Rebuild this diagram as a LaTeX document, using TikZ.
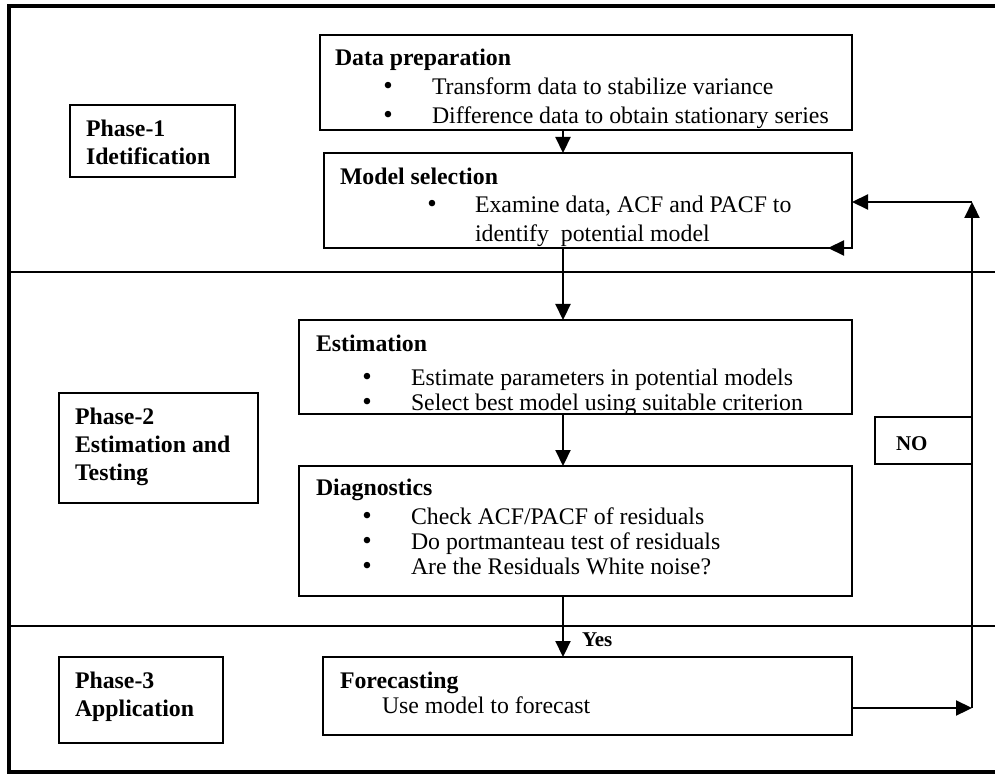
\documentclass[tikz,border=0pt]{standalone}
\usepackage{fontspec}
\setmainfont{Liberation Serif}
\usetikzlibrary{arrows.meta}
\newcommand{\bulitem}[2][48.7pt]{\makebox[#1][l]{\fontsize{27}{27}\selectfont\textbullet}#2}
\begin{document}
\begin{tikzpicture}[x=1pt,y=-1pt,
  every node/.style={inner sep=0pt, outer sep=0pt},
  txt/.style={anchor=base west, font=\fontsize{23.8}{26}\selectfont},
  ttl/.style={anchor=base west, font=\fontsize{23.8}{26}\selectfont\bfseries},
  lbl/.style={anchor=base west, font=\fontsize{21}{24}\selectfont\bfseries},
  box/.style={draw, line width=2pt, anchor=north west},
  frameline/.style={line width=4pt, line join=miter},
  divider/.style={line width=2pt},
  arr/.style={line width=2.2pt, -{Triangle[length=16pt,width=15pt]}},
]
\useasboundingbox (0,0) rectangle (995,775);
\fill[white] (0,0) rectangle (995,775);

% frame and dividers
\draw[frameline] (995,6) -- (9,6) -- (9,772) -- (995,772);
\draw[divider] (9,272) -- (995,272);
\draw[divider] (9,626) -- (995,626);

% phase boxes
\node[box, minimum width=165pt, minimum height=72pt] (p1) at (70,105) {};
\node[ttl] (p1a) at (86,137) {Phase-1};
\node[ttl] (p1b) at (86,165) {Idetification};

\node[box, minimum width=199pt, minimum height=110pt] (p2) at (59,393) {};
\node[ttl] (p2a) at (75,424) {Phase-2};
\node[ttl] (p2b) at (75,452) {Estimation and};
\node[ttl] (p2c) at (75,480) {Testing};

\node[box, minimum width=164pt, minimum height=86pt] (p3) at (59,657) {};
\node[ttl] (p3a) at (75,688) {Phase-3};
\node[ttl] (p3b) at (75,716) {Application};

% process boxes
\node[box, minimum width=532pt, minimum height=95pt] (dp) at (320,35) {};
\begin{scope}
\clip (dp.north west) rectangle (dp.south east);
\node[ttl] (dpt) at (335,66) {Data preparation};
\node[txt] (dp1) at (383.3,95) {\bulitem{Transform data to stabilize variance}};
\node[txt] (dp2) at (383.3,124) {\bulitem{Difference data to obtain stationary series}};
\end{scope}

\node[box, minimum width=528pt, minimum height=95pt] (ms) at (324,153) {};
\begin{scope}
\clip (ms.north west) rectangle (ms.south east);
\node[ttl] (mst) at (340,185) {Model selection};
\node[txt] (ms1) at (427.3,213) {\bulitem[47.7pt]{Examine data, ACF and PACF to}};
\node[txt] (ms2) at (475,242) {identify\ \ potential model};
\end{scope}

\node[box, minimum width=553pt, minimum height=94pt] (est) at (299,320) {};
\begin{scope}
\clip (est.north west) rectangle (est.south east);
\node[ttl] (estt) at (316,351) {Estimation};
\node[txt] (est1) at (362.3,385) {\bulitem{Estimate parameters in potential models}};
\node[txt] (est2) at (362.3,410) {\bulitem{Select best model using suitable criterion}};
\end{scope}

\node[box, minimum width=553pt, minimum height=130pt] (dg) at (299,466) {};
\begin{scope}
\clip (dg.north west) rectangle (dg.south east);
\node[ttl] (dgt) at (316,495) {Diagnostics};
\node[txt] (dg1) at (362.3,524) {\bulitem{Check ACF/PACF of residuals}};
\node[txt] (dg2) at (362.3,549) {\bulitem{Do portmanteau test of residuals}};
\node[txt] (dg3) at (362.3,574) {\bulitem{Are the Residuals White noise?}};
\end{scope}

\node[box, minimum width=529pt, minimum height=78pt] (fc) at (323,657) {};
\node[ttl] (fct) at (340,688) {Forecasting};
\node[txt] (fc1) at (382,713) {Use model to forecast};

% NO box
\node[box, minimum width=97pt, minimum height=47pt] (no) at (875,417) {};
\node[lbl] (notxt) at (896,450) {NO};

% connectors
\coordinate (ax) at (563,0);
\coordinate (rb) at (972,708);
\coordinate (rt) at (972,202);
\draw[arr] (dp.south -| ax) -- (ms.north -| ax);
\draw[arr] (ms.south -| ax) -- (est.north -| ax);
\draw[arr] (est.south -| ax) -- (dg.north -| ax);
\draw[arr] (dg.south -| ax) -- (fc.north -| ax);
\node[lbl] (yes) at (582,646) {Yes};
\draw[arr] (rb -| fc.east) -- (rb);
\draw[arr] (rb) -- (rt);
\draw[arr] (rt) -- (rt -| ms.east);
\draw[arr] (rt -| ms.east) -- (ms.south east) -- ++(-24,0);
\end{tikzpicture}
\end{document}
